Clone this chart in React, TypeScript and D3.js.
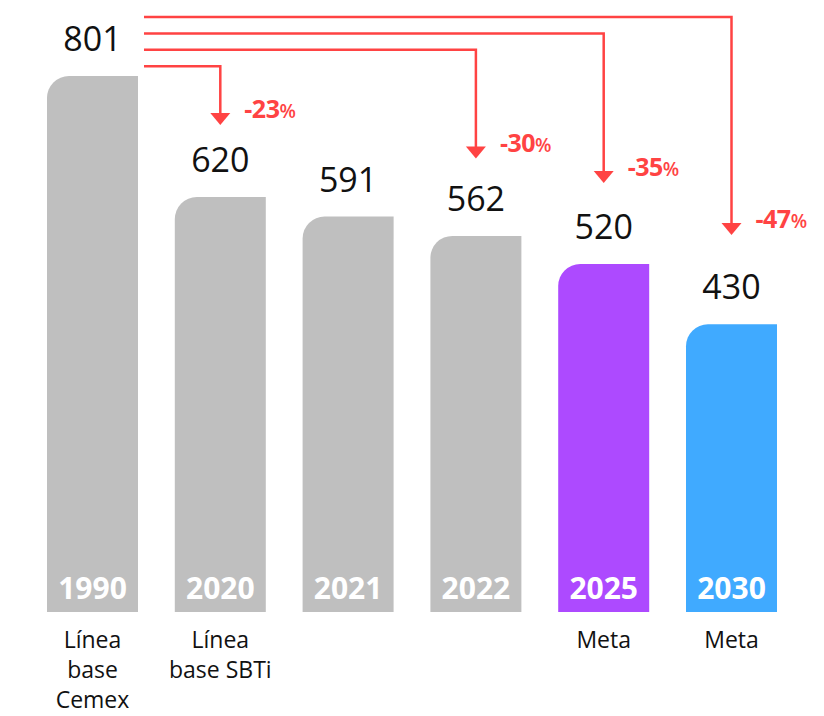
import * as d3 from "d3";

const years = ["1990", "2020", "2021", "2022", "2025", "2030"];
const values = [801, 620, 591, 562, 520, 430];
const barColors = ["#bfbfbf", "#bfbfbf", "#bfbfbf", "#bfbfbf", "#ad4aff", "#40aaff"];
const captions = [["Línea", "base", "Cemex"], ["Línea", "base SBTi"], [], [], ["Meta"], ["Meta"]];

// reduction arrows, all starting from the 1990 baseline
const arrowTargets = ["2030", "2025", "2022", "2020"];
const arrowPcts = ["-47", "-35", "-30", "-23"];

const W = 824;
const H = 716;
const RED = "#ff4343";
const FONT = "'Open Sans', 'Noto Sans', sans-serif";

export default function App() {
  const x = d3.scaleBand().domain(years).range([47, 777]).paddingInner(0.288).paddingOuter(0);
  const y = d3.scaleLinear().domain([0, 801]).range([612, 76]);
  // arrow tips sit above the target bars, a bit closer for the taller ones
  const tipY = d3.scaleLinear().domain([430, 620]).range([235, 125]);
  const bw = x.bandwidth();
  const r = 22;

  const barPath = (yr: string, v: number) => {
    const x0 = x(yr)!;
    const top = y(v);
    const bottom = y(0);
    return `M${x0},${bottom}V${top + r}A${r},${r} 0 0 1 ${x0 + r},${top}H${x0 + bw}V${bottom}Z`;
  };

  const startX = x("1990")! + bw + 6;

  return (
    <svg width={W} height={H} style={{ position: "absolute", left: 0, top: 0 }} fontFamily={FONT}>
      <rect width={W} height={H} fill="#fff" />
      {years.map((yr, i) => {
        const cx = x(yr)! + bw / 2;
        return (
          <g key={yr}>
            <path d={barPath(yr, values[i])} fill={barColors[i]} />
            <text x={cx} y={y(values[i]) - 25} textAnchor="middle" fontSize={34} fill="#111">
              {values[i]}
            </text>
            <text x={cx} y={y(0) - 13} textAnchor="middle" fontSize={30} fontWeight={700} fill="#fff">
              {yr}
            </text>
            {captions[i].map((line, j) => (
              <text key={j} x={cx} y={y(0) + 36 + j * 30} textAnchor="middle" fontSize={23} fill="#111">
                {line}
              </text>
            ))}
          </g>
        );
      })}
      {arrowTargets.map((yr, k) => {
        const vi = years.indexOf(yr);
        const ax = x(yr)! + bw / 2;
        const ly = 17 + k * 16.4;
        const tip = tipY(values[vi]);
        return (
          <g key={yr}>
            <path d={`M${startX},${ly}H${ax}V${tip - 10}`} fill="none" stroke={RED} strokeWidth={2.5} />
            <path d={`M${ax - 10},${tip - 12}L${ax + 10},${tip - 12}L${ax},${tip}Z`} fill={RED} />
            <text x={ax + 24} y={tip - 7} fontSize={25} fontWeight={700} fill={RED} letterSpacing={-0.5}>
              {arrowPcts[k]}
              <tspan fontSize={19} fontWeight={600}>%</tspan>
            </text>
          </g>
        );
      })}
    </svg>
  );
}
